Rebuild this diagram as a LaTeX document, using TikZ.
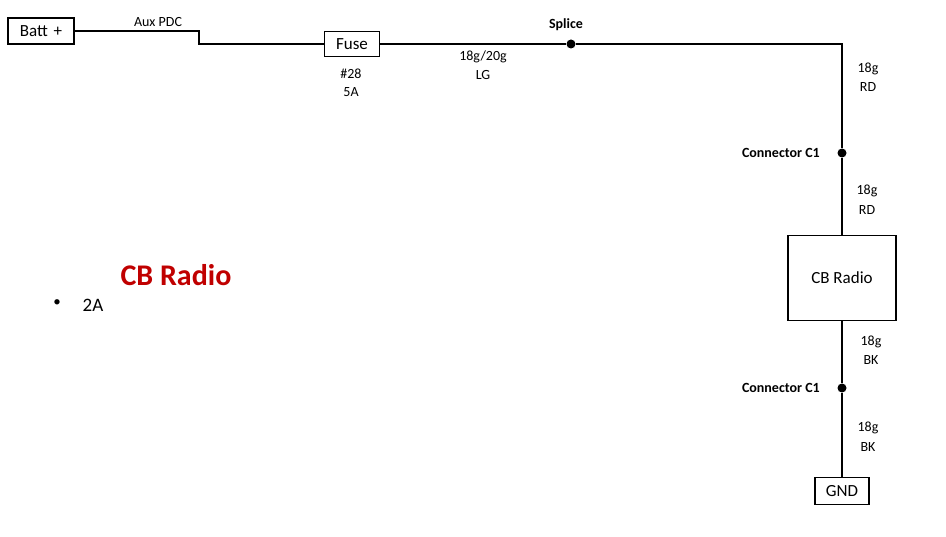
\documentclass[tikz,border=0pt]{standalone}
\usepackage{fontspec}
\setmainfont{Carlito}
\usetikzlibrary{positioning}
\definecolor{titlered}{HTML}{C00000}
\begin{document}
\begin{tikzpicture}[x=1pt, y=-1pt,
    box/.style={draw, line width=1.5pt, minimum height=26pt, font=\fontsize{17}{19}\selectfont, inner sep=0pt},
    lbl/.style={font=\fontsize{14}{16}\selectfont},
    blbl/.style={font=\fontsize{14}{16}\selectfont\bfseries},
    dot/.style={circle, fill, inner sep=0pt, minimum size=9pt},
    wire/.style={line width=1.5pt}]
  \useasboundingbox (0,0) rectangle (946,537);

  % boxes
  \node[box, minimum width=66pt] (batt) at (41,31) {Batt\,\,+};
  \node[box, minimum width=55pt, minimum height=25pt] (fuse) at (352,44) {Fuse};
  \node[box, minimum width=108pt, minimum height=85pt] (radio) at (842,278) {CB Radio};
  \node[box, minimum width=54pt, minimum height=27pt] (gnd) at (842,491) {GND};

  % dots
  \node[dot] (splice) at (571,44) {};
  \node[dot] (conA) at (842,153) {};
  \node[dot] (conB) at (842,388) {};
  \coordinate (corner) at (842,44);

  % wires
  \draw[wire] (batt.east) -- (199,31) -- (199,44) -- (fuse.west);
  \draw[wire] (fuse.east) -- (splice) -- (corner) -- (conA) -- (radio.north);
  \draw[wire] (radio.south) -- (conB) -- (gnd.north);

  % labels
  \node[lbl] at (158,22) {Aux PDC};
  \node[lbl] at (351,74) {\#28};
  \node[lbl] at (351,92) {5A};
  \node[blbl] at (566,25) {Splice};
  \node[lbl] at (483,57) {18g/20g};
  \node[lbl] at (483,75) {LG};
  \node[lbl] at (868,69) {18g};
  \node[lbl] at (868,87) {RD};
  \node[blbl, left=14pt of conA] {Connector C1};
  \node[lbl] at (867,191) {18g};
  \node[lbl] at (867,210) {RD};
  \node[lbl] at (871,342) {18g};
  \node[lbl] at (871,360) {BK};
  \node[blbl, left=14pt of conB] {Connector C1};
  \node[lbl] at (868,428) {18g};
  \node[lbl] at (868,447) {BK};

  % notes
  \node[font=\fontsize{30}{34}\selectfont\bfseries, text=titlered] at (176,275) {CB Radio};
  \node[font=\fontsize{15}{18}\selectfont] at (57,303) {•};
  \node[font=\fontsize{19}{22}\selectfont] at (93,305) {2A};
\end{tikzpicture}
\end{document}
